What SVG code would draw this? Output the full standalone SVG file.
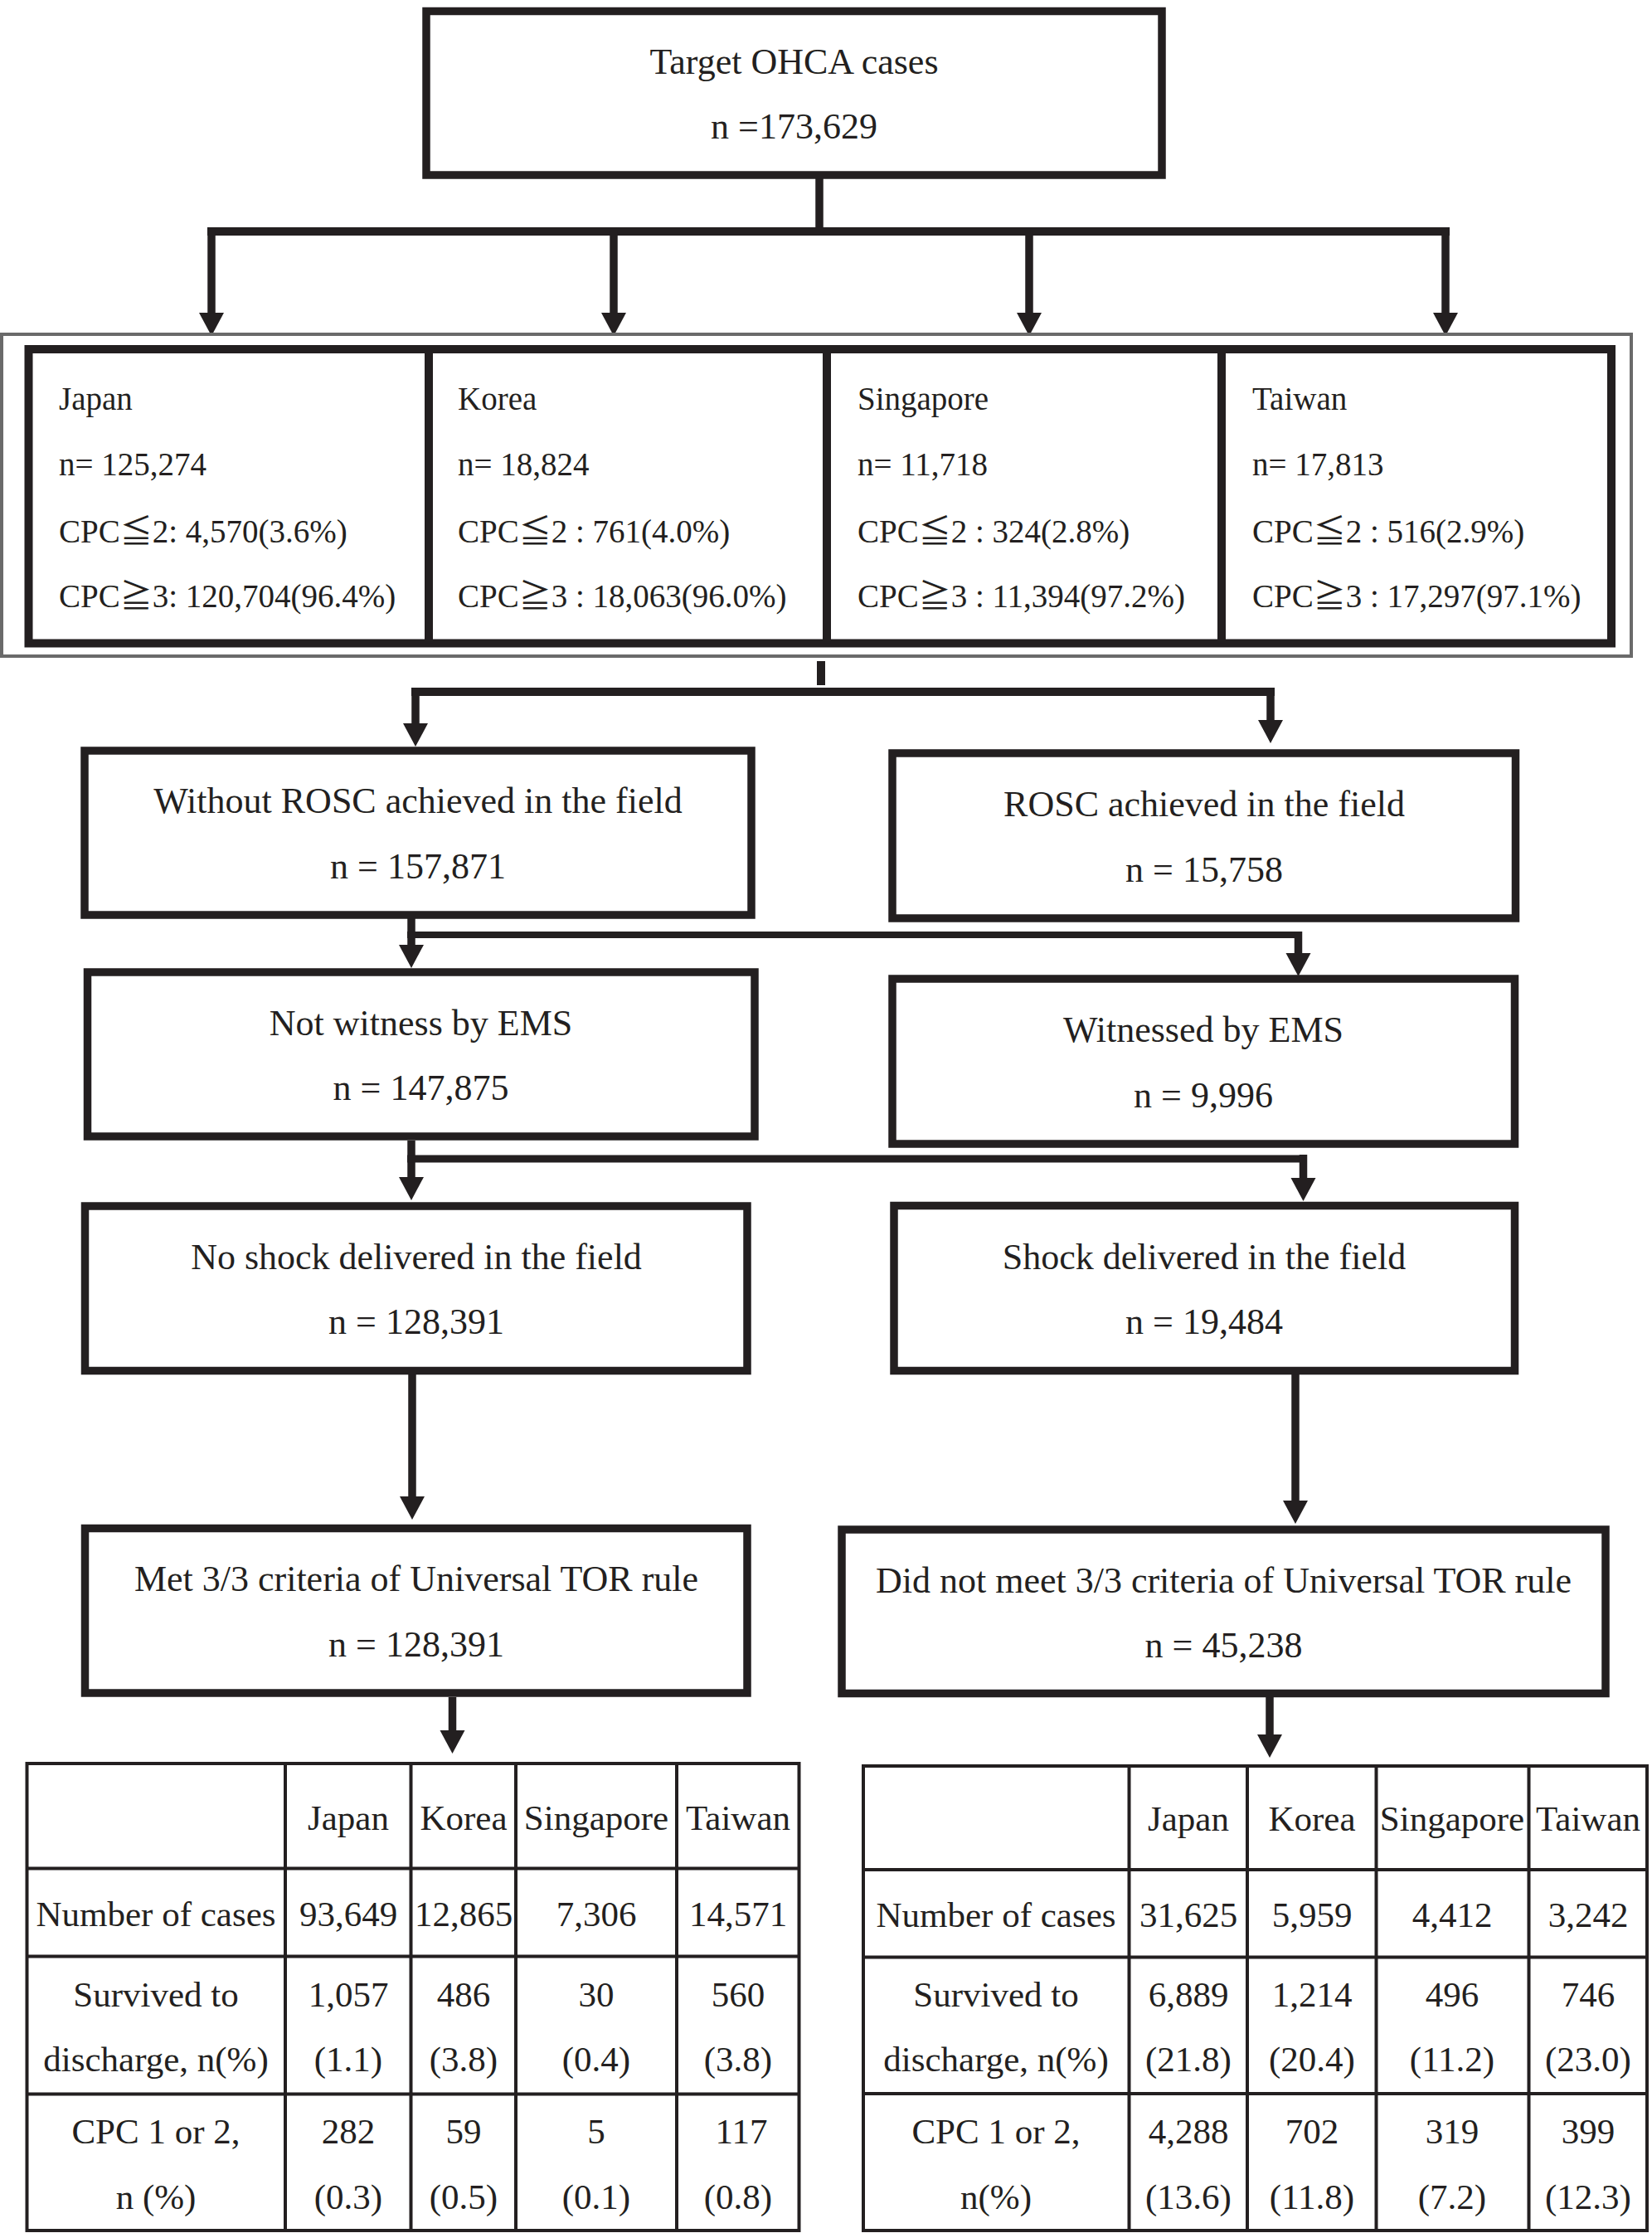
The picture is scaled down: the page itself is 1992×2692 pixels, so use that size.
<svg xmlns="http://www.w3.org/2000/svg" width="1992" height="2692" viewBox="0 0 1992 2692">
<style>
.box{fill:#fff;stroke:#231f20;stroke-width:9.5}
.cbox{fill:none;stroke:#231f20;stroke-width:10}
.outer{fill:none;stroke:#6a6a6a;stroke-width:4}
.tbl{fill:none;stroke:#231f20;stroke-width:4}
.con{fill:none;stroke:#231f20;stroke-width:9.5}
.arr{fill:none;stroke:#231f20;stroke-width:9.5;marker-end:url(#ah)}
text{font-family:"Liberation Serif","Noto Sans CJK JP",serif;fill:#231f20}
.m{font-size:44px;text-anchor:middle}
.c{font-size:39px}
.tc{font-size:43px;text-anchor:middle}
</style>
<defs>
<marker id="ah" markerUnits="userSpaceOnUse" markerWidth="30" markerHeight="32" viewBox="0 -16 30 32" refX="0" refY="0" orient="auto" overflow="visible">
<path d="M0,-15 L28,0 L0,15 z" fill="#231f20"/>
</marker>
</defs>
<rect width="1992" height="2692" fill="#fff"/>

<g id="connectors">
<path class="con" d="M988,211 V279"/>
<path class="con" d="M250,279 H1748" style="stroke-width:10"/>
<path class="arr" d="M255,279 V377"/>
<path class="arr" d="M740,279 V377"/>
<path class="arr" d="M1241,279 V377"/>
<path class="arr" d="M1743,279 V377"/>
<path class="con" d="M990,797 V826" style="stroke-width:10"/>
<path class="con" d="M496,834 H1537" style="stroke-width:10"/>
<path class="arr" d="M501,829 V872"/>
<path class="arr" d="M1532,829 V868"/>
<path class="arr" d="M496,1103 V1139"/>
<path class="con" d="M491,1127 H1570" style="stroke-width:8"/>
<path class="arr" d="M1565.5,1123 V1149"/>
<path class="arr" d="M496,1375 V1419"/>
<path class="con" d="M491,1397 H1576" style="stroke-width:9"/>
<path class="arr" d="M1571.5,1392 V1420"/>
<path class="arr" d="M497,1657 V1804"/>
<path class="arr" d="M1562,1657 V1809"/>
<path class="arr" d="M545.5,2046 V2086"/>
<path class="arr" d="M1531,2046 V2091"/>
</g>

<g id="target">
<rect class="box" x="514" y="13.5" width="887" height="197.5"/>
<text class="m" x="957.5" y="89">Target OHCA cases</text>
<text class="m" x="957.5" y="167">n =173,629</text>
</g>

<g id="countries">
<rect class="outer" x="2" y="403" width="1965" height="388"/>
<rect class="cbox" x="34.5" y="421" width="1908.5" height="354.5"/>
<path class="cbox" d="M517,421 V775.5 M997,421 V775.5 M1473,421 V775.5"/>
<g id="japan">
<text class="c" x="71" y="494">Japan</text>
<text class="c" x="71" y="573">n= 125,274</text>
<text class="c" x="71" y="654">CPC≦2: 4,570(3.6%)</text>
<text class="c" x="71" y="732">CPC≧3: 120,704(96.4%)</text>
</g>
<g id="korea">
<text class="c" x="552" y="494">Korea</text>
<text class="c" x="552" y="573">n= 18,824</text>
<text class="c" x="552" y="654">CPC≦2 : 761(4.0%)</text>
<text class="c" x="552" y="732">CPC≧3 : 18,063(96.0%)</text>
</g>
<g id="singapore">
<text class="c" x="1034" y="494">Singapore</text>
<text class="c" x="1034" y="573">n= 11,718</text>
<text class="c" x="1034" y="654">CPC≦2 : 324(2.8%)</text>
<text class="c" x="1034" y="732">CPC≧3 : 11,394(97.2%)</text>
</g>
<g id="taiwan">
<text class="c" x="1510" y="494">Taiwan</text>
<text class="c" x="1510" y="573">n= 17,813</text>
<text class="c" x="1510" y="654">CPC≦2 : 516(2.9%)</text>
<text class="c" x="1510" y="732">CPC≧3 : 17,297(97.1%)</text>
</g>
</g>

<g id="without-rosc">
<rect class="box" x="102" y="905" width="804" height="198"/>
<text class="m" x="504" y="980">Without ROSC achieved in the field</text>
<text class="m" x="504" y="1059">n = 157,871</text>
</g>
<g id="rosc">
<rect class="box" x="1076" y="908" width="751.5" height="199"/>
<text class="m" x="1452" y="984">ROSC achieved in the field</text>
<text class="m" x="1452" y="1063">n = 15,758</text>
</g>
<g id="not-witness">
<rect class="box" x="105.5" y="1172" width="804.5" height="198"/>
<text class="m" x="507.5" y="1248">Not witness by EMS</text>
<text class="m" x="507.5" y="1326">n = 147,875</text>
</g>
<g id="witnessed">
<rect class="box" x="1076" y="1180" width="750.5" height="199"/>
<text class="m" x="1451" y="1256">Witnessed by EMS</text>
<text class="m" x="1451" y="1335">n = 9,996</text>
</g>
<g id="no-shock">
<rect class="box" x="102.5" y="1454" width="798.5" height="198.5"/>
<text class="m" x="502" y="1530">No shock delivered in the field</text>
<text class="m" x="502" y="1608">n = 128,391</text>
</g>
<g id="shock">
<rect class="box" x="1078" y="1453.5" width="748.5" height="199"/>
<text class="m" x="1452" y="1530">Shock delivered in the field</text>
<text class="m" x="1452" y="1608">n = 19,484</text>
</g>
<g id="met">
<rect class="box" x="102.5" y="1842.5" width="798.5" height="198.5"/>
<text class="m" x="502" y="1918">Met 3/3 criteria of Universal TOR rule</text>
<text class="m" x="502" y="1997">n = 128,391</text>
</g>
<g id="not-met">
<rect class="box" x="1015" y="1844" width="921" height="197.5"/>
<text class="m" x="1475.5" y="1920">Did not meet 3/3 criteria of Universal TOR rule</text>
<text class="m" x="1475.5" y="1998">n = 45,238</text>
</g>

<g id="table-met">
<rect class="tbl" x="32.5" y="2126" width="931" height="563"/>
<path class="tbl" d="M344,2126 V2689 M495.5,2126 V2689 M622,2126 V2689 M816,2126 V2689 M32.5,2252.5 H963.5 M32.5,2358.5 H963.5 M32.5,2524.5 H963.5"/>
<text class="tc" x="420" y="2206">Japan</text>
<text class="tc" x="559" y="2206">Korea</text>
<text class="tc" x="719" y="2206">Singapore</text>
<text class="tc" x="890" y="2206">Taiwan</text>
<text class="tc" x="188" y="2322">Number of cases</text>
<text class="tc" x="420" y="2322">93,649</text>
<text class="tc" x="559" y="2322">12,865</text>
<text class="tc" x="719" y="2322">7,306</text>
<text class="tc" x="890" y="2322">14,571</text>
<text class="tc" x="188" y="2419">Survived to</text>
<text class="tc" x="188" y="2497">discharge, n(%)</text>
<text class="tc" x="420" y="2419">1,057</text>
<text class="tc" x="420" y="2497">(1.1)</text>
<text class="tc" x="559" y="2419">486</text>
<text class="tc" x="559" y="2497">(3.8)</text>
<text class="tc" x="719" y="2419">30</text>
<text class="tc" x="719" y="2497">(0.4)</text>
<text class="tc" x="890" y="2419">560</text>
<text class="tc" x="890" y="2497">(3.8)</text>
<text class="tc" x="188" y="2584">CPC 1 or 2,</text>
<text class="tc" x="188" y="2663">n (%)</text>
<text class="tc" x="420" y="2584">282</text>
<text class="tc" x="420" y="2663">(0.3)</text>
<text class="tc" x="559" y="2584">59</text>
<text class="tc" x="559" y="2663">(0.5)</text>
<text class="tc" x="719" y="2584">5</text>
<text class="tc" x="719" y="2663">(0.1)</text>
<text class="tc" x="894" y="2584">117</text>
<text class="tc" x="890" y="2663">(0.8)</text>
</g>

<g id="table-not-met">
<rect class="tbl" x="1041" y="2129" width="945" height="560"/>
<path class="tbl" d="M1361.5,2129 V2689 M1504,2129 V2689 M1659.5,2129 V2689 M1843.5,2129 V2689 M1041,2254 H1986 M1041,2359.5 H1986 M1041,2524 H1986"/>
<text class="tc" x="1433" y="2207">Japan</text>
<text class="tc" x="1582" y="2207">Korea</text>
<text class="tc" x="1751" y="2207">Singapore</text>
<text class="tc" x="1915" y="2207">Taiwan</text>
<text class="tc" x="1201" y="2323">Number of cases</text>
<text class="tc" x="1433" y="2323">31,625</text>
<text class="tc" x="1582" y="2323">5,959</text>
<text class="tc" x="1751" y="2323">4,412</text>
<text class="tc" x="1915" y="2323">3,242</text>
<text class="tc" x="1201" y="2419">Survived to</text>
<text class="tc" x="1201" y="2497">discharge, n(%)</text>
<text class="tc" x="1433" y="2419">6,889</text>
<text class="tc" x="1433" y="2497">(21.8)</text>
<text class="tc" x="1582" y="2419">1,214</text>
<text class="tc" x="1582" y="2497">(20.4)</text>
<text class="tc" x="1751" y="2419">496</text>
<text class="tc" x="1751" y="2497">(11.2)</text>
<text class="tc" x="1915" y="2419">746</text>
<text class="tc" x="1915" y="2497">(23.0)</text>
<text class="tc" x="1201" y="2584">CPC 1 or 2,</text>
<text class="tc" x="1201" y="2663">n(%)</text>
<text class="tc" x="1433" y="2584">4,288</text>
<text class="tc" x="1433" y="2663">(13.6)</text>
<text class="tc" x="1582" y="2584">702</text>
<text class="tc" x="1582" y="2663">(11.8)</text>
<text class="tc" x="1751" y="2584">319</text>
<text class="tc" x="1751" y="2663">(7.2)</text>
<text class="tc" x="1915" y="2584">399</text>
<text class="tc" x="1915" y="2663">(12.3)</text>
</g>
</svg>
